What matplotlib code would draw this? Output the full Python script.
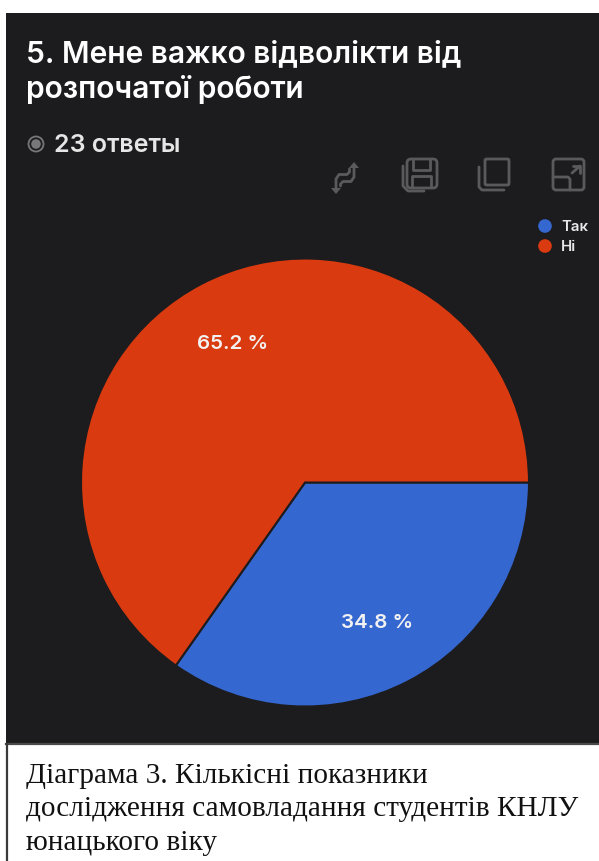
import matplotlib
matplotlib.use("Agg")
import matplotlib.pyplot as plt
from matplotlib.patches import Rectangle, FancyBboxPatch, Circle, Polygon

# Survey results
categories = ["Так", "Ні"]
answers = [8, 15]
slice_colors = ["#3567D0", "#DA3A10"]

title_lines = ["5. Мене важко відволікти від", "розпочатої роботи"]
answers_text = "23 ответы"
caption_lines = [
    "Діаграма 3. Кількісні показники",
    "дослідження самовладання студентів КНЛУ",
    "юнацького віку",
]

W, H = 599, 862
panel_color = "#1C1C1E"
icon_color = "#5A5A5C"

fig = plt.figure(figsize=(W / 100, H / 100), dpi=100, facecolor="white")

# Background axes in pixel coordinates, y going down
bg = fig.add_axes([0, 0, 1, 1])
bg.set_xlim(0, W)
bg.set_ylim(H, 0)
bg.axis("off")

bg.add_patch(Rectangle((6, 14), W - 6, 731, facecolor=panel_color, edgecolor="none"))
bg.plot([6, W], [745, 745], color="#4A4A4A", lw=1.6)
bg.plot([7, 7], [745, H], color="#3A3A3A", lw=1.6)

# Header
for i, line in enumerate(title_lines):
    bg.text(26, 54 + i * 35, line, color="white", fontsize=21.6, family="Inter",
            fontweight="semibold", va="center", ha="left")
bg.add_patch(Circle((36, 145), 7.5, facecolor="none", edgecolor="#77777A", lw=1.3))
bg.add_patch(Circle((36, 145), 4.8, facecolor="#77777A", edgecolor="none"))
bg.text(54.5, 145, answers_text, color="#E6E6E6", fontsize=18, family="Inter",
        fontweight="semibold", va="center", ha="left")


def path(xs, ys, lw=2):
    bg.plot(xs, ys, color=icon_color, lw=lw, solid_capstyle="round", solid_joinstyle="round")


# Toolbar: switch icon
path([336, 336, 339, 347, 349.5, 349.5], [189, 180, 175.5, 175.5, 173, 170])
path([354, 354, 351, 343, 340.5, 340.5], [168, 178, 182.5, 182.5, 185, 187])
bg.add_patch(Polygon([[354, 163], [349, 169], [359, 169]], facecolor=icon_color))
bg.add_patch(Polygon([[336, 195], [331, 189], [341, 189]], facecolor=icon_color))

# Toolbar: save icon
bg.add_patch(FancyBboxPatch((407, 160), 30, 29, boxstyle="round,pad=0,rounding_size=4",
                            facecolor="none", edgecolor=icon_color, lw=2))
path([403, 403, 408, 424], [167, 187, 192, 192])
path([413, 413, 430, 430], [160, 171, 171, 160])
path([412, 412, 431, 431], [188, 177, 177, 188])

# Toolbar: copy icon
bg.add_patch(FancyBboxPatch((485, 160), 24, 26, boxstyle="round,pad=0,rounding_size=1.5",
                            facecolor="none", edgecolor=icon_color, lw=2))
path([479, 479, 482, 504], [168, 188, 191, 191])

# Toolbar: expand icon
bg.add_patch(FancyBboxPatch((553, 160), 31, 31, boxstyle="round,pad=0,rounding_size=3",
                            facecolor="none", edgecolor=icon_color, lw=2))
path([553, 568, 570, 570], [178, 178, 180, 191])
path([572, 580], [174, 167])
path([573, 580, 580], [167, 167, 174])

# Legend
for i, (name, color) in enumerate(zip(categories, slice_colors)):
    y = 227 + i * 20
    bg.add_patch(Circle((545, y), 6.8, facecolor=color, edgecolor="none"))
    bg.text(561, y, name, color="#E8E8E8", fontsize=10.8, family="Inter",
            fontweight="semibold", va="center", ha="left")

# Caption
for i, line in enumerate(caption_lines):
    bg.text(26.5, 783 + i * 33.5, line, color="#111111", fontsize=21.1, family="Liberation Serif",
            va="baseline", ha="left")

# Pie, placed so its radius is 224 px around (305, 483.5)
cx, cy, r = 305, 483.5, 224
ax = fig.add_axes([(cx - r) / W, 1 - (cy + r) / H, 2 * r / W, 2 * r / H])
wedges, texts, autotexts = ax.pie(
    answers, colors=slice_colors, startangle=0, counterclock=False,
    autopct="%.1f %%", pctdistance=0.7,
    wedgeprops={"edgecolor": "#1C1C1E", "linewidth": 1.5},
    textprops={"color": "#F2F2F2", "fontsize": 14.8, "family": "Inter", "fontweight": "semibold"},
)
ax.set_xlim(-1, 1)
ax.set_ylim(-1, 1)

fig.savefig("out.png", dpi=100, facecolor="white")
